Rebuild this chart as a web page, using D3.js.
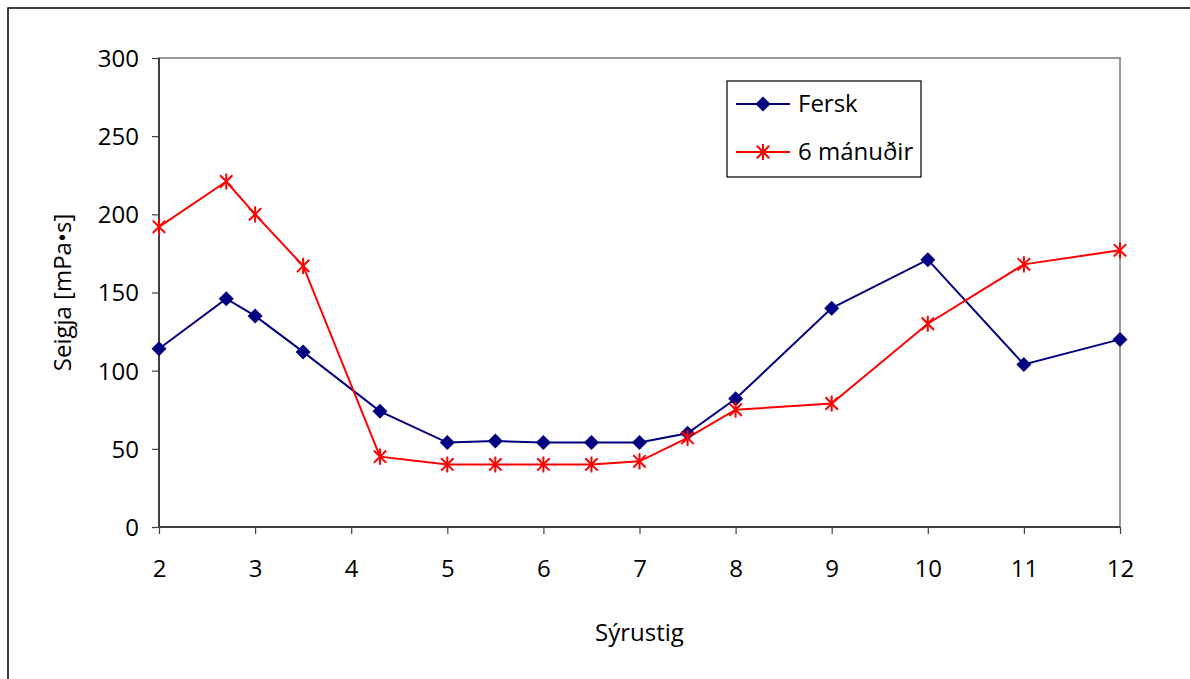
<!DOCTYPE html>
<html><head><meta charset="utf-8">
<script src="https://cdn.jsdelivr.net/npm/d3@7"></script>
<style>
html,body{margin:0;padding:0;background:#fff;}
svg text{font-family:"Comic Sans MS","Open Sans",Lato,sans-serif;fill:#000;}
</style></head>
<body>
<svg id="chart" width="1190" height="679"></svg>
<script>
const xValues = [2, 2.7, 3, 3.5, 4.3, 5, 5.5, 6, 6.5, 7, 7.5, 8, 9, 10, 11, 12];
const ferskValues = [114, 146, 135, 112, 74, 54, 55, 54, 54, 54, 60, 82, 140, 171, 104, 120];
const manudirValues = [192, 221, 200, 167, 45, 40, 40, 40, 40, 42, 57, 75, 79, 130, 168, 177];
const seriesNames = ["Fersk", "6 mánuðir"];
const xTicks = [2, 3, 4, 5, 6, 7, 8, 9, 10, 11, 12];
const yTicks = [0, 50, 100, 150, 200, 250, 300];
const xTitle = "Sýrustig";
const yTitle = "Seigja [mPa•s]";

const FS = 24;
const svg = d3.select("#chart");
const L = 159, R = 1120, T = 58, B = 527;
const x = d3.scaleLinear().domain([2, 12]).range([L, R]);
const y = d3.scaleLinear().domain([0, 300]).range([B, T]);

// outer frame
svg.append("rect").attr("x", 8).attr("y", 8).attr("width", 1200).attr("height", 700)
  .attr("fill", "none").attr("stroke", "#000").attr("stroke-width", 1.5);

// plot area border (gray)
svg.append("rect").attr("x", L).attr("y", T).attr("width", R - L).attr("height", B - T)
  .attr("fill", "none").attr("stroke", "#999").attr("stroke-width", 2);

// axes
const yAxis = svg.append("g").attr("transform", `translate(${L},0)`)
  .call(d3.axisLeft(y).tickValues(yTicks).tickSize(7).tickPadding(13).tickFormat(d3.format("d")));
const xAxis = svg.append("g").attr("transform", `translate(0,${B})`)
  .call(d3.axisBottom(x).tickValues(xTicks).tickSize(7).tickPadding(26).tickFormat(d3.format("d")));
[yAxis, xAxis].forEach(g => {
  g.attr("font-size", FS);
  g.select(".domain").attr("stroke", "#404040").attr("stroke-width", 2);
  g.selectAll(".tick line").attr("stroke", "#404040").attr("stroke-width", 1.2);
  g.selectAll("text").attr("font-size", FS).style("font-family", '"Comic Sans MS","Open Sans",Lato,sans-serif');
});
yAxis.select(".domain").attr("d", `M0,${B}V${T}`);
xAxis.select(".domain").attr("d", `M${L},0H${R}`);
yAxis.selectAll("text").attr("dy", "0.35em");

// titles
svg.append("text").attr("x", (L + R) / 2).attr("y", 641).attr("text-anchor", "middle")
  .attr("font-size", FS).text(xTitle);
svg.append("text").attr("transform", `translate(71,${(T + B) / 2}) rotate(-90)`)
  .attr("text-anchor", "middle").attr("font-size", FS).text(yTitle);

const line = d3.line().x(d => x(d[0])).y(d => y(d[1]));
const ferskData = xValues.map((v, i) => [v, ferskValues[i]]);
const manData = xValues.map((v, i) => [v, manudirValues[i]]);

function diamond(g, cx, cy, r, color) {
  g.append("path").attr("d", `M${cx},${cy - r}L${cx + r},${cy}L${cx},${cy + r}L${cx - r},${cy}Z`).attr("fill", color);
}
function star(g, cx, cy, r, color) {
  const p = `M${cx - r},${cy - r}L${cx + r},${cy + r}M${cx - r},${cy + r}L${cx + r},${cy - r}M${cx},${cy - r * 1.3}L${cx},${cy + r * 1.3}`;
  g.append("path").attr("d", p).attr("stroke", color).attr("stroke-width", 2).attr("fill", "none");
}

const navy = "#000080", red = "#ff0000";
svg.append("path").datum(ferskData).attr("d", line).attr("fill", "none").attr("stroke", navy).attr("stroke-width", 2);
svg.append("path").datum(manData).attr("d", line).attr("fill", "none").attr("stroke", red).attr("stroke-width", 2);
const gF = svg.append("g");
ferskData.forEach(d => diamond(gF, x(d[0]), y(d[1]), 7.5, navy));
const gM = svg.append("g");
manData.forEach(d => star(gM, x(d[0]), y(d[1]), 6.2, red));

// legend
const lg = svg.append("g");
lg.append("rect").attr("x", 727).attr("y", 81).attr("width", 194).attr("height", 96)
  .attr("fill", "#fff").attr("stroke", "#000").attr("stroke-width", 1.2);
const items = [[navy, diamond], [red, star]];
items.forEach((it, i) => {
  const cy = 104 + i * 48;
  lg.append("line").attr("x1", 736).attr("x2", 790).attr("y1", cy).attr("y2", cy).attr("stroke", it[0]).attr("stroke-width", 2);
  it[1](lg, 763, cy, i === 0 ? 7.5 : 6.2, it[0]);
  lg.append("text").attr("x", 798).attr("y", cy).attr("dy", "0.35em").attr("font-size", FS).text(seriesNames[i]);
});
</script>
</body></html>
